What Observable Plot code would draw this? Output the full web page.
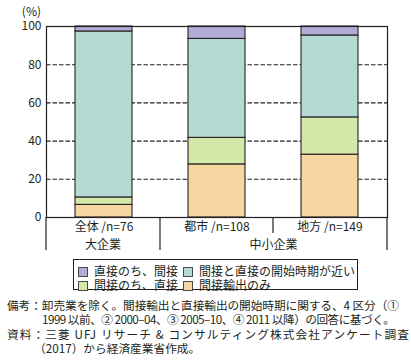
<!DOCTYPE html>
<html><head><meta charset="utf-8">
<script src="https://cdn.jsdelivr.net/npm/d3@7"></script>
<script src="https://cdn.jsdelivr.net/npm/@observablehq/plot@0.6"></script>
<style>
body{margin:0;background:#fff;font-family:"Noto Sans CJK JP",sans-serif;color:#231f20;}
#wrap{position:relative;width:411px;height:364px;overflow:hidden;}
#chart{position:absolute;left:0;top:0;}
#legend{position:absolute;left:73px;top:259px;width:283px;height:29px;border:1.2px solid #231f20;}
.li{position:absolute;font-size:12px;line-height:13px;white-space:nowrap;}
.sw{display:inline-block;width:8px;height:8px;border:1px solid #4a4a4a;vertical-align:-1px;margin-right:6px;}
#notes{position:absolute;left:0;top:297.5px;font-size:11.7px;line-height:14.6px;white-space:nowrap;}
#notes div{position:relative;height:14.6px;}
#notes span{position:absolute;top:0;}
</style></head><body>
<div id="wrap"><div id="chart"></div><div id="legend"></div><div id="notes"></div></div>
<script>
const categories = ["全体 /n=76", "都市 /n=108", "地方 /n=149"];
const groupLabels = ["大企業", "中小企業"];
const series = ["間接輸出のみ", "間接のち、直接", "間接と直接の開始時期が近い", "直接のち、間接"];
const seriesColors = ["#f5d6a1", "#d4e8a9", "#b3dbd3", "#b3aad6"];
const onlyIndirect = [6.6, 27.8, 32.9];
const indirectThenDirect = [3.9, 13.9, 19.5];
const nearSimultaneous = [86.9, 51.8, 42.9];
const directThenIndirect = [2.6, 6.5, 4.7];
const yTicks = [0, 20, 40, 60, 80, 100];
const legendOrder = ["直接のち、間接", "間接と直接の開始時期が近い", "間接のち、直接", "間接輸出のみ"];
const noteLines = [
  "備考：卸売業を除く。間接輸出と直接輸出の開始時期に関する、4 区分（①",
  "1999 以前、② 2000–04、③ 2005–10、④ 2011 以降）の回答に基づく。",
  "資料：三菱 UFJ リサーチ & コンサルティング株式会社アンケート調査",
  "（2017）から経済産業省作成。"
];

const seriesValues = [onlyIndirect, indirectThenDirect, nearSimultaneous, directThenIndirect];
const rows = [];
categories.forEach((c, i) => series.forEach((s, j) => rows.push({cat: c, series: s, value: seriesValues[j][i]})));

const ink = "#231f20";
const font = "'Noto Sans CJK JP', sans-serif";

const decor = (index, scales, values, dims) => {
  const x = scales.x;
  const bw = x.bandwidth ? x.bandwidth() : 0;
  const left = dims.marginLeft, right = dims.width - dims.marginRight;
  const y0 = dims.height - dims.marginBottom;
  const g = d3.create("svg:g");
  const b01 = (x(categories[0]) + x(categories[1]) + bw) / 2;
  const b12 = (x(categories[1]) + x(categories[2]) + bw) / 2;
  const lines = [[left, 33], [b01, 33], [b12, 16], [right, 33]];
  g.selectAll("line").data(lines).join("line")
    .attr("x1", d => d[0]).attr("x2", d => d[0])
    .attr("y1", y0).attr("y2", d => y0 + d[1])
    .attr("stroke", ink).attr("stroke-width", 1.2);
  const glabels = [[groupLabels[0], (left + b01) / 2], [groupLabels[1], (b01 + right) / 2]];
  g.selectAll("text.g").data(glabels).join("text")
    .attr("x", d => d[1]).attr("y", y0 + 31.5)
    .attr("text-anchor", "middle").attr("font-size", 12).attr("fill", ink)
    .attr("font-family", font)
    .text(d => d[0]);
  g.append("text").attr("x", left - 5).attr("y", 15.5).attr("text-anchor", "end")
    .attr("font-size", 12).attr("fill", ink).attr("font-family", font).text("(%)");
  return g.node();
};

const chart = Plot.plot({
  width: 411,
  height: 254,
  marginTop: 26,
  marginBottom: 37,
  marginLeft: 46,
  marginRight: 24,
  style: {fontFamily: font, fontSize: "12px", color: ink, background: "white", overflow: "visible"},
  x: {domain: categories, paddingInner: 0.5, paddingOuter: 0.25, tickSize: 0, tickPadding: 5, label: null},
  y: {domain: [0, 100], ticks: yTicks, tickSize: 0, tickPadding: 5, label: null},
  color: {domain: series, range: seriesColors},
  marks: [
    Plot.ruleY(yTicks.filter(d => d > 0 && d < 100), {stroke: ink, strokeWidth: 1.1, strokeDasharray: "4.5,2"}),
    Plot.barY(rows, {x: "cat", y: "value", fill: "series", order: series, stroke: ink, strokeWidth: 1.1}),
    Plot.frame({stroke: ink, strokeWidth: 1.2}),
    decor
  ]
});
document.getElementById("chart").appendChild(chart);

const colorOf = s => seriesColors[series.indexOf(s)];
const legendPos = [[4, 4], [109, 4], [4, 18], [109, 18]];
const leg = document.getElementById("legend");
legendOrder.forEach((s, i) => {
  const d = document.createElement("div");
  d.className = "li";
  d.style.left = legendPos[i][0] + "px";
  d.style.top = legendPos[i][1] + "px";
  d.innerHTML = `<span class="sw" style="background:${colorOf(s)}"></span>${s}`;
  leg.appendChild(d);
});

// line layout: [left, right target or null]
const noteLayout = [[7, 399], [42, 395], [7, 409], [34, null]];
const notes = document.getElementById("notes");
noteLines.forEach((t, i) => {
  const d = document.createElement("div");
  const sp = document.createElement("span");
  sp.textContent = t;
  sp.style.left = noteLayout[i][0] + "px";
  d.appendChild(sp);
  notes.appendChild(d);
  const target = noteLayout[i][1];
  if (target) {
    const w = sp.getBoundingClientRect().width;
    const n = [...t].length;
    const ls = (target - noteLayout[i][0] - w) / (n - 1);
    sp.style.letterSpacing = ls + "px";
  }
});
</script>
</body></html>
